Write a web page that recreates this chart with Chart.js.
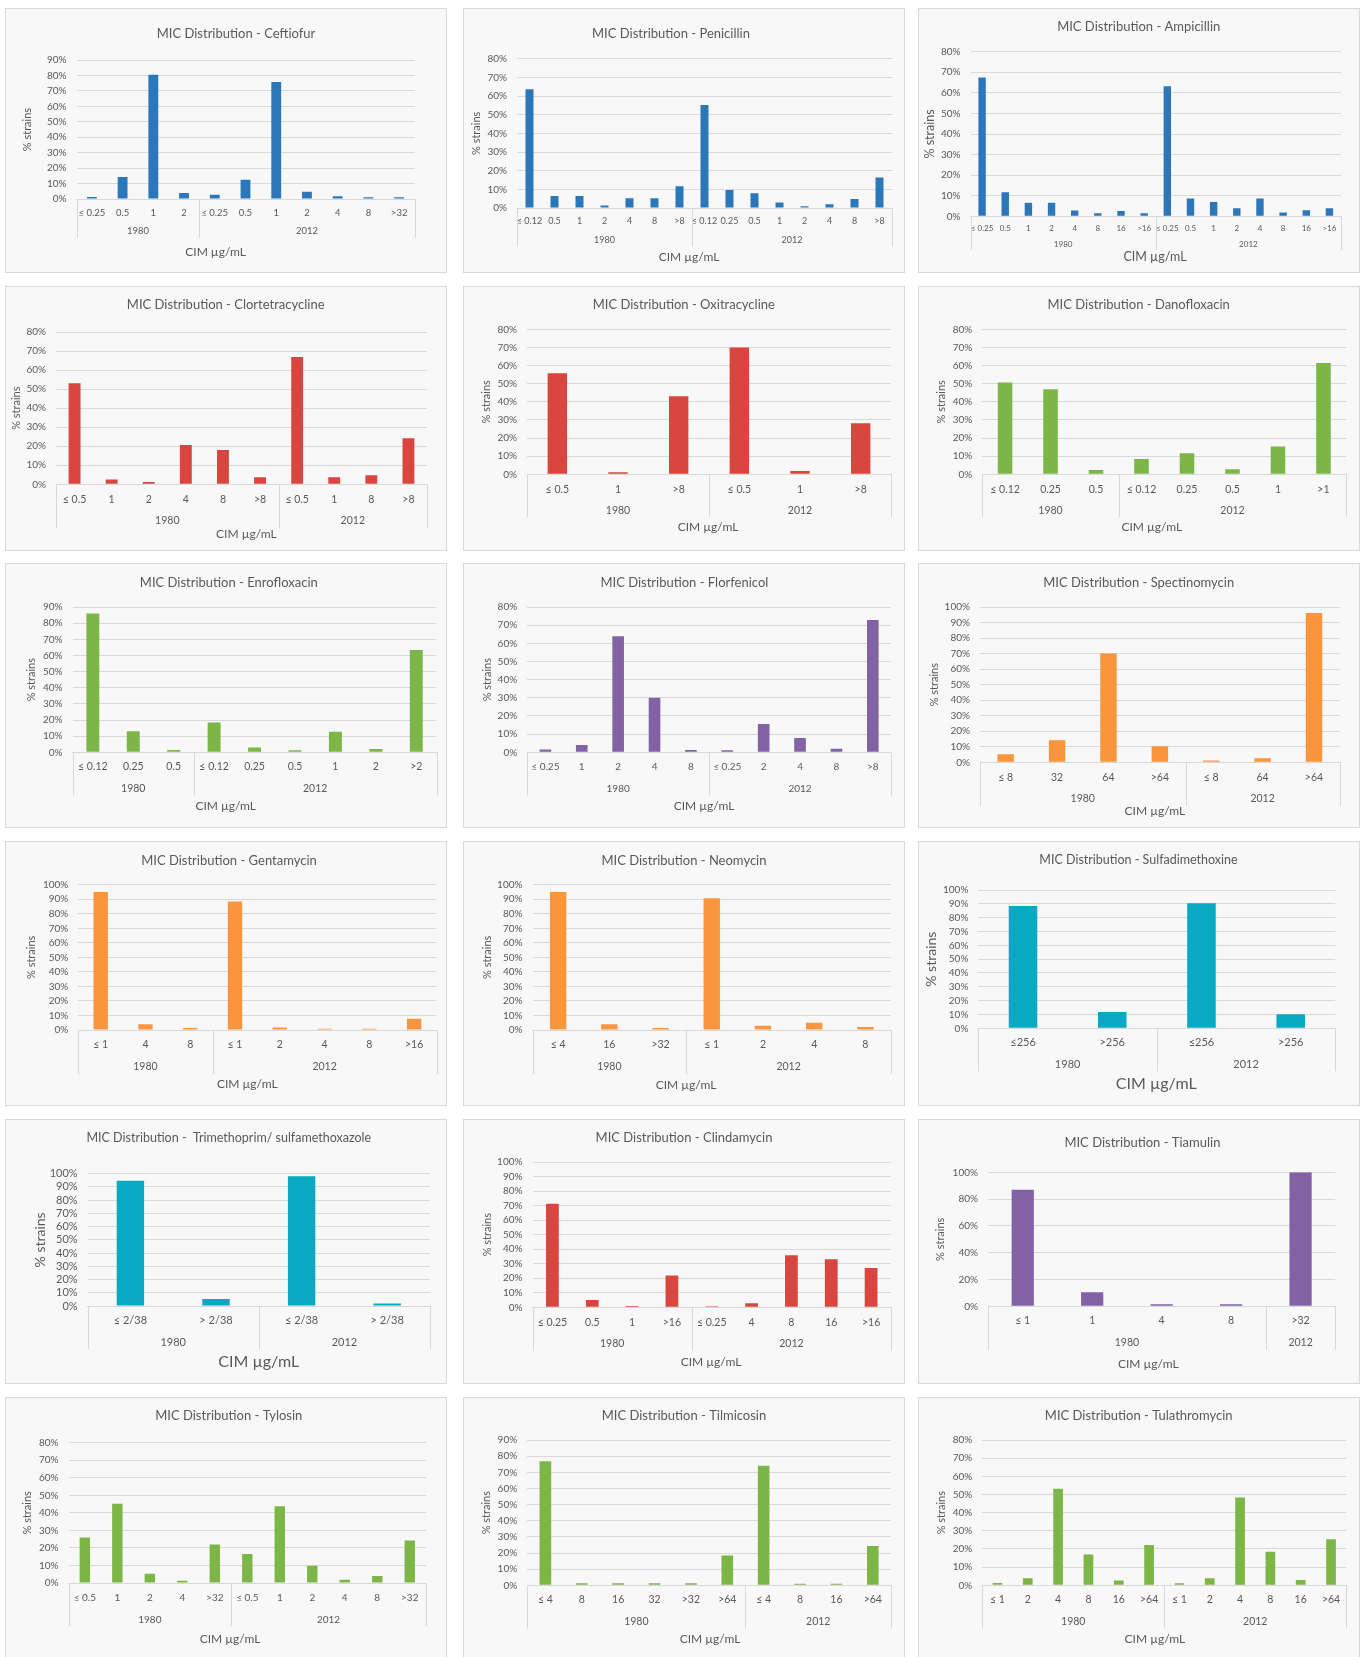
<!DOCTYPE html>
<html>
<head>
<meta charset="utf-8">
<script src="https://cdn.jsdelivr.net/npm/chart.js@4.4.1/dist/chart.umd.min.js"></script>
<style>
  html, body { margin: 0; padding: 0; background: #ffffff; }
  body { width: 1365px; height: 1657px; position: relative; overflow: hidden; }
  .panel { position: absolute; width: 442px; height: 265px; background: #f8f8f8; box-shadow: inset 0 0 0 1px #d9d9d9; }
  .panel canvas { position: absolute; left: 0; top: 0; }
</style>
</head>
<body>
<script>
// ---------------- DATA ----------------
const YEARS = ['1980', '2012'];
const X_TITLE = 'CIM µg/mL';
const Y_TITLE = '% strains';

const ceftiofurLabels = ['≤ 0.25','0.5','1','2','≤ 0.25','0.5','1','2','4','8','>32'];
const ceftiofurValues = [1.3,14.2,80.4,3.9,2.8,12.5,75.7,4.7,1.7,1.1,1.1];
const ceftiofurGroups = [4,7];

const penicillinLabels = ['≤ 0.12','0.5','1','2','4','8','>8','≤ 0.12','0.25','0.5','1','2','4','8','>8'];
const penicillinValues = [63.6,6.4,6.4,1.3,5.2,5.2,11.6,55.2,9.6,7.9,2.9,0.9,2.0,4.8,16.4];
const penicillinGroups = [7,8];

const ampicillinLabels = ['≤ 0.25','0.5','1','2','4','8','16','>16','≤ 0.25','0.5','1','2','4','8','16','>16'];
const ampicillinValues = [67.5,11.7,6.6,6.6,2.8,1.5,2.6,1.5,63.2,8.7,7.0,3.9,8.7,1.9,2.9,3.9];
const ampicillinGroups = [8,8];

const clortetracyclineLabels = ['≤ 0.5','1','2','4','8','>8','≤ 0.5','1','8','>8'];
const clortetracyclineValues = [53.1,2.5,1.2,20.7,18.0,3.7,66.9,3.7,4.7,24.2];
const clortetracyclineGroups = [6,4];

const oxitracyclineLabels = ['≤ 0.5','1','>8','≤ 0.5','1','>8'];
const oxitracyclineValues = [55.7,1.1,43.0,70.0,1.8,28.1];
const oxitracyclineGroups = [3,3];

const danofloxacinLabels = ['≤ 0.12','0.25','0.5','≤ 0.12','0.25','0.5','1','>1'];
const danofloxacinValues = [50.7,46.9,2.4,8.5,11.6,2.8,15.4,61.4];
const danofloxacinGroups = [3,5];

const enrofloxacinLabels = ['≤ 0.12','0.25','0.5','≤ 0.12','0.25','0.5','1','2','>2'];
const enrofloxacinValues = [85.9,13.0,1.4,18.4,2.9,1.2,12.8,2.1,63.4];
const enrofloxacinGroups = [3,6];

const florfenicolLabels = ['≤ 0.25','1','2','4','8','≤ 0.25','2','4','8','>8'];
const florfenicolValues = [1.5,4.0,63.9,30.1,1.3,1.1,15.6,7.9,2.0,72.8];
const florfenicolGroups = [5,5];

const spectinomycinLabels = ['≤ 8','32','64','>64','≤ 8','64','>64'];
const spectinomycinValues = [5.2,14.2,70.0,10.3,1.1,2.6,96.1];
const spectinomycinGroups = [4,3];

const gentamycinLabels = ['≤ 1','4','8','≤ 1','2','4','8','>16'];
const gentamycinValues = [95.0,3.9,1.4,88.5,1.8,0.9,0.9,7.8];
const gentamycinGroups = [3,5];

const neomycinLabels = ['≤ 4','16','>32','≤ 1','2','4','8'];
const neomycinValues = [95.0,3.9,1.4,90.6,3.0,5.0,2.0];
const neomycinGroups = [3,4];

const sulfadimethoxineLabels = ['≤256','>256','≤256','>256'];
const sulfadimethoxineValues = [88.4,11.8,90.4,10.1];
const sulfadimethoxineGroups = [2,2];

const trimethoprimLabels = ['≤ 2/38','> 2/38','≤ 2/38','> 2/38'];
const trimethoprimValues = [94.7,5.3,98.0,1.8];
const trimethoprimGroups = [2,2];

const clindamycinLabels = ['≤ 0.25','0.5','1','>16','≤ 0.25','4','8','16','>16'];
const clindamycinValues = [71.3,5.0,0.9,21.8,0.7,2.8,35.8,33.0,27.1];
const clindamycinGroups = [4,5];

const tiamulinLabels = ['≤ 1','1','4','8','>32'];
const tiamulinValues = [87.0,10.4,1.5,1.5,100];
const tiamulinGroups = [4,1];

const tylosinLabels = ['≤ 0.5','1','2','4','>32','≤ 0.5','1','2','4','8','>32'];
const tylosinValues = [26.0,45.2,5.3,1.3,22.0,16.5,43.7,9.9,1.9,4.0,24.3];
const tylosinGroups = [5,6];

const tilmicosinLabels = ['≤ 4','8','16','32','>32','>64','≤ 4','8','16','>64'];
const tilmicosinValues = [76.9,1.2,1.2,1.2,1.2,18.4,74.0,1.0,1.0,24.4];
const tilmicosinGroups = [6,4];

const tulathromycinLabels = ['≤ 1','2','4','8','16','>64','≤ 1','2','4','8','16','>64'];
const tulathromycinValues = [1.3,3.9,53.2,16.9,2.6,22.2,1.1,3.9,48.4,18.5,2.9,25.3];
const tulathromycinGroups = [6,6];

const yMaxes = [90,80,80, 80,80,80, 90,80,100, 100,100,100, 100,100,100, 80,90,80];
const yStepSizes = [10,10,10, 10,10,10, 10,10,10, 10,10,10, 10,10,20, 10,10,10];

// ---------------- STYLE ----------------
const BLUE = '#2b77b9', RED = '#d9453f', GREEN = '#7cb647', PURPLE = '#8262a5', ORANGE = '#f9963d', TEAL = '#07a9c3';
const TEXT = '#595959';
const GRID = '#d9d9d9';
const FONT = "Lato, 'Open Sans', 'Noto Sans', sans-serif";

const CHARTS = [
  {title:'MIC Distribution - Ceftiofur', labels:ceftiofurLabels, values:ceftiofurValues, groups:ceftiofurGroups, color:BLUE},
  {title:'MIC Distribution - Penicillin', labels:penicillinLabels, values:penicillinValues, groups:penicillinGroups, color:BLUE},
  {title:'MIC Distribution - Ampicillin', labels:ampicillinLabels, values:ampicillinValues, groups:ampicillinGroups, color:BLUE},
  {title:'MIC Distribution - Clortetracycline', labels:clortetracyclineLabels, values:clortetracyclineValues, groups:clortetracyclineGroups, color:RED},
  {title:'MIC Distribution - Oxitracycline', labels:oxitracyclineLabels, values:oxitracyclineValues, groups:oxitracyclineGroups, color:RED},
  {title:'MIC Distribution - Danofloxacin', labels:danofloxacinLabels, values:danofloxacinValues, groups:danofloxacinGroups, color:GREEN},
  {title:'MIC Distribution - Enrofloxacin', labels:enrofloxacinLabels, values:enrofloxacinValues, groups:enrofloxacinGroups, color:GREEN},
  {title:'MIC Distribution - Florfenicol', labels:florfenicolLabels, values:florfenicolValues, groups:florfenicolGroups, color:PURPLE},
  {title:'MIC Distribution - Spectinomycin', labels:spectinomycinLabels, values:spectinomycinValues, groups:spectinomycinGroups, color:ORANGE},
  {title:'MIC Distribution - Gentamycin', labels:gentamycinLabels, values:gentamycinValues, groups:gentamycinGroups, color:ORANGE},
  {title:'MIC Distribution - Neomycin', labels:neomycinLabels, values:neomycinValues, groups:neomycinGroups, color:ORANGE},
  {title:'MIC Distribution - Sulfadimethoxine', labels:sulfadimethoxineLabels, values:sulfadimethoxineValues, groups:sulfadimethoxineGroups, color:TEAL},
  {title:'MIC Distribution -  Trimethoprim/ sulfamethoxazole', labels:trimethoprimLabels, values:trimethoprimValues, groups:trimethoprimGroups, color:TEAL},
  {title:'MIC Distribution - Clindamycin', labels:clindamycinLabels, values:clindamycinValues, groups:clindamycinGroups, color:RED},
  {title:'MIC Distribution - Tiamulin', labels:tiamulinLabels, values:tiamulinValues, groups:tiamulinGroups, color:PURPLE},
  {title:'MIC Distribution - Tylosin', labels:tylosinLabels, values:tylosinValues, groups:tylosinGroups, color:GREEN},
  {title:'MIC Distribution - Tilmicosin', labels:tilmicosinLabels, values:tilmicosinValues, groups:tilmicosinGroups, color:GREEN},
  {title:'MIC Distribution - Tulathromycin', labels:tulathromycinLabels, values:tulathromycinValues, groups:tulathromycinGroups, color:GREEN}
];

// ---------------- LAYOUT (positions relative to each panel) ----------------
const PANEL_W = 442, PANEL_H = 265;
const COL_X = [5, 463, 918];
const ROW_Y = [8, 286, 563, 841, 1119, 1397];
// l,t,r,b plot area; tx,ty title; yt y-title centre x; cy category label centre y; yy year label y; sb separator bottom; xx,xy x-title
const GEO = [
  {l:71.5,t:52,r:409.5,b:191, tx:231,ty:26, yt:22, cy:204.7, yy:223, sb:230, xx:210.6, xy:244, cat:9.5, yr:9.5},
  {l:54,t:50.7,r:429,b:200, tx:208,ty:25.5, yt:13.6, cy:213, yy:232, sb:238.7, xx:226, xy:249, cat:9, yr:9},
  {l:52.5,t:43.7,r:423,b:208.3, tx:220.7,ty:19.3, yt:12, cy:220, yy:236.7, sb:242, xx:237, xy:249.3, cat:8, yr:8, ytf:12.5, xtf:12.5},
  {l:51,t:46,r:422,b:198.3, tx:220.7,ty:19, yt:11.3, cy:213.3, yy:234.7, sb:242.3, xx:241.4, xy:248, cat:10.5, yr:10.5},
  {l:64,t:43.3,r:428,b:188.3, tx:220.8,ty:19, yt:23, cy:203.3, yy:224.7, sb:231, xx:245, xy:241.3, cat:10.5, yr:10.5},
  {l:64.3,t:43.3,r:428.2,b:188.3, tx:220.7,ty:19, yt:23, cy:203.3, yy:224.7, sb:231, xx:233.8, xy:241.3, cat:10.5, yr:10.5},
  {l:67.6,t:44,r:431.5,b:189.3, tx:223.8,ty:20.3, yt:26.7, cy:203.7, yy:225.7, sb:233, xx:220.7, xy:243, cat:10.5, yr:10.5},
  {l:64.2,t:44,r:428,b:189.3, tx:221.4,ty:20.3, yt:24, cy:203.7, yy:225.7, sb:233, xx:241, xy:243, cat:10, yr:10},
  {l:62,t:44,r:421.7,b:199.3, tx:220.7,ty:19.7, yt:16.7, cy:214.3, yy:235.3, sb:243, xx:236.9, xy:247.7, cat:10.5, yr:10.5},
  {l:73.3,t:43.7,r:431.5,b:189, tx:224,ty:19.7, yt:26.7, cy:203.7, yy:225.7, sb:233, xx:242.3, xy:243, cat:10.5, yr:10.5},
  {l:69.5,t:43.7,r:428,b:189, tx:221,ty:19.7, yt:24, cy:203.7, yy:225.7, sb:233, xx:223, xy:243.7, cat:10.5, yr:10.5},
  {l:60.4,t:49,r:417.3,b:187.3, tx:220.5,ty:18.7, yt:13.2, cy:201.3, yy:223.3, sb:230.3, xx:238.2, xy:242.7, cat:11, yr:11, ytf:14, xtf:16, tf:12.5},
  {l:82.6,t:54.7,r:425,b:187, tx:223.8,ty:18.7, yt:35.5, cy:201, yy:223, sb:230, xx:253.7, xy:242.7, cat:11, yr:11, ytf:14, xtf:16, tf:12.5, yf:11},
  {l:69.5,t:43,r:428,b:188.3, tx:221,ty:19.3, yt:24, cy:203.3, yy:225, sb:232, xx:248, xy:242.7, cat:10.5, yr:10.5},
  {l:70,t:53.3,r:417.3,b:187.3, tx:224.4,ty:24.3, yt:22.8, cy:202, yy:223.7, sb:231, xx:230.3, xy:245.3, cat:10.5, yr:10.5},
  {l:63.6,t:45.7,r:421,b:186, tx:223.8,ty:19, yt:22.7, cy:200.3, yy:222.3, sb:229, xx:225, xy:242.3, cat:10, yr:10},
  {l:64.2,t:43,r:428,b:188.3, tx:221,ty:19, yt:23.3, cy:203, yy:224.7, sb:231.3, xx:247, xy:242.3, cat:10.5, yr:10.5},
  {l:64.3,t:43,r:428.2,b:188.3, tx:220.7,ty:19, yt:23.2, cy:203, yy:224.7, sb:231.3, xx:236.9, xy:242.3, cat:10.5, yr:10.5}
];

function overlayPlugin(spec, g) {
  return {
    id: 'hierOverlay',
    afterDraw(chart) {
      const {ctx, chartArea: a} = chart;
      const x = chart.scales.x;
      ctx.save();
      // group boundaries from the category scale
      const bounds = [a.left];
      let idx = 0;
      spec.groups.forEach((n, i) => {
        idx += n;
        if (i === spec.groups.length - 1) bounds.push(a.right);
        else bounds.push((x.getPixelForTick(idx - 1) + x.getPixelForTick(idx)) / 2);
      });
      ctx.strokeStyle = GRID; ctx.lineWidth = 1;
      bounds.forEach(px => {
        const xx = Math.round(px) + 0.5;
        ctx.beginPath(); ctx.moveTo(xx, a.bottom); ctx.lineTo(xx, g.sb); ctx.stroke();
      });
      ctx.fillStyle = TEXT; ctx.textAlign = 'center'; ctx.textBaseline = 'middle';
      ctx.font = `${g.yr}px ${FONT}`;
      YEARS.forEach((yr, i) => ctx.fillText(yr, (bounds[i] + bounds[i + 1]) / 2, g.yy));
      ctx.font = `${g.xtf || 12}px ${FONT}`;
      ctx.fillText(X_TITLE, g.xx, g.xy);
      ctx.font = `${g.tf || 13}px ${FONT}`;
      ctx.fillText(spec.title, g.tx, g.ty);
      ctx.restore();
    }
  };
}

CHARTS.forEach((spec, i) => {
  const g = GEO[i];
  const panel = document.createElement('div');
  panel.className = 'panel';
  panel.style.left = COL_X[i % 3] + 'px';
  panel.style.top = ROW_Y[Math.floor(i / 3)] + 'px';
  const canvas = document.createElement('canvas');
  canvas.width = PANEL_W; canvas.height = PANEL_H;
  canvas.style.width = PANEL_W + 'px'; canvas.style.height = PANEL_H + 'px';
  panel.appendChild(canvas);
  document.body.appendChild(panel);

  const catSize = g.cat, yTickSize = g.yf || 10, yTitleSize = g.ytf || 11;
  new Chart(canvas, {
    type: 'bar',
    data: {
      labels: spec.labels,
      datasets: [{ data: spec.values, backgroundColor: spec.color, borderWidth: 0,
                   barPercentage: 0.32, categoryPercentage: 1.0 }]
    },
    options: {
      responsive: false,
      maintainAspectRatio: false,
      animation: false,
      devicePixelRatio: 1,
      layout: { padding: { left: 0, top: g.t, right: PANEL_W - g.r, bottom: 0 } },
      plugins: { legend: { display: false }, title: { display: false }, tooltip: { enabled: false } },
      scales: {
        x: {
          grid: { display: false, drawTicks: false },
          border: { display: true, color: GRID, width: 1 },
          ticks: { autoSkip: false, maxRotation: 0, minRotation: 0, color: TEXT,
                   font: { family: FONT, size: catSize },
                   padding: g.cy - g.b - catSize * 0.6 },
          afterFit: s => { s.height = PANEL_H - g.b; }
        },
        y: {
          min: 0, max: yMaxes[i],
          grid: { color: GRID, lineWidth: 1, drawTicks: false },
          border: { display: false },
          ticks: { stepSize: yStepSizes[i], autoSkip: false, maxTicksLimit: 20, color: TEXT, padding: 10,
                   font: { family: FONT, size: yTickSize },
                   callback: v => v + '%' },
          title: { display: true, text: Y_TITLE, color: TEXT,
                   font: { family: FONT, size: yTitleSize },
                   padding: { top: Math.max(0, g.yt - yTitleSize * 0.6), bottom: 0 } },
          afterFit: s => { s.width = g.l; }
        }
      }
    },
    plugins: [overlayPlugin(spec, g)]
  });
});
</script>
</body>
</html>
